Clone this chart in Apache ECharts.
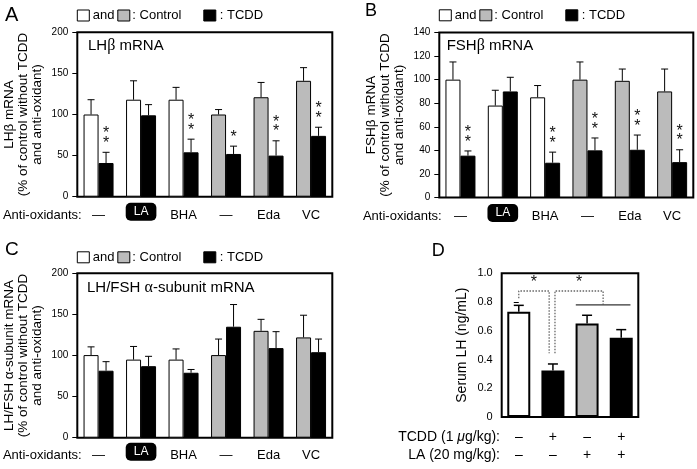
<!DOCTYPE html>
<html><head><meta charset="utf-8">
<script src="https://cdn.jsdelivr.net/npm/echarts@6/dist/echarts.min.js"></script>
<style>html,body{margin:0;padding:0;background:#fff}#c{width:697px;height:469px}</style>
</head><body><div id="c"></div>
<script>
// ---------- data ----------
const categories = ['—', 'LA', 'BHA', '—', 'Eda', 'VC'];
// Panel A: LHbeta mRNA (% of control)
const lhbControl   = [100, 118, 118, 100, 121, 141];
const lhbControlSE = [18, 23, 15, 6, 18, 16];
const lhbTcdd      = [41, 99, 54, 52, 50, 74];
const lhbTcddSE    = [13, 13, 16, 9.5, 18, 10.5];
const lhbStars     = ['**', '', '**', '*', '**', '**'];
// Panel B: FSHbeta mRNA
const fshControl   = [100, 78, 85, 100, 99, 90];
const fshControlSE = [15, 13, 10, 15, 10, 19];
const fshTcdd      = [35.5, 90, 29.5, 40, 40.5, 30];
const fshTcddSE    = [4, 12, 9, 10.5, 12.5, 10.5];
const fshStars     = ['**', '', '**', '**', '**', '**'];
// Panel C: LH/FSH alpha-subunit mRNA
const alphaControl   = [100.5, 95, 95, 100.5, 130, 122];
const alphaControlSE = [10, 16, 13, 19.5, 14, 27];
const alphaTcdd      = [81.5, 87, 79, 135, 109, 104];
const alphaTcddSE    = [11, 12, 4, 27, 20, 16];
const alphaStars     = ['', '', '', '', '', ''];
// Panel D: serum LH (ng/mL)
const serumGroups = ['g1', 'g2', 'g3', 'g4'];
const tcddRow = ['–', '+', '–', '+'];
const laRow   = ['–', '–', '+', '+'];
const serumLH = [0.733, 0.323, 0.65, 0.552];
const serumSE = [0.044, 0.046, 0.058, 0.056];
// significance annotations (data units)
const bracketLeft  = [[0, 0.826], [0, 0.877], [0.89, 0.877], [0.89, 0.443]];
const bracketRight = [[1.06, 0.443], [1.06, 0.877], [2.47, 0.877], [2.47, 0.784]];
const groupLine    = [[1.67, 0.78], [3.27, 0.78]];
const sigStars     = [[0.445, 0.935], [1.765, 0.935]];

// ---------- styles / layout ----------
const FONT = '"Liberation Sans", Arial, Helvetica, sans-serif';
const WHITE = '#ffffff', GRAY = '#bbbbbb', BLACK = '#000000';
const BW = 15;

function makeErr(offset, capW, lw, stars) {
  return function (params, api) {
    const i = api.value(0), m = api.value(1), s = api.value(2);
    const b = api.coord([i, m]);
    const t = api.coord([i, m + s]);
    const x = b[0] + offset;
    const ch = [
      {type: 'line', shape: {x1: x, y1: b[1], x2: x, y2: t[1]}, style: {stroke: '#000', lineWidth: lw}},
      {type: 'line', shape: {x1: x - capW / 2, y1: t[1], x2: x + capW / 2, y2: t[1]}, style: {stroke: '#000', lineWidth: lw}}
    ];
    const st = stars && stars[i];
    if (st) {
      ch.push({type: 'text', x: x, y: t[1] - 4,
        style: {text: st.split('').join('\n'), fill: '#111', font: '16px ' + FONT,
          align: 'center', verticalAlign: 'bottom', textAlign: 'center', textVerticalAlign: 'bottom', lineHeight: 9.5}});
    }
    return {type: 'group', children: ch};
  };
}
function starItem(params, api) {
  const p = api.coord([api.value(0), api.value(1)]);
  return {type: 'text', x: p[0], y: p[1],
    style: {text: '*', fill: '#111', font: '16px ' + FONT,
      align: 'center', verticalAlign: 'middle', textAlign: 'center', textVerticalAlign: 'middle'}};
}

const grids = [
  {left: 77.3, top: 32.3, width: 255, height: 164.4},
  {left: 439.3, top: 32.5, width: 254, height: 165},
  {left: 77.3, top: 273.3, width: 255, height: 164.4},
  {left: 501.7, top: 273.3, width: 136.6, height: 143.7}
].map(g => Object.assign(g, {show: true, borderColor: '#000', borderWidth: 2, backgroundColor: 'transparent'}));

function catAxis(gi, margin) {
  return {
    gridIndex: gi, type: 'category', data: categories,
    axisLine: {show: false}, axisTick: {show: false},
    axisLabel: {
      interval: 0, margin: margin,
      formatter: v => v === 'LA' ? '{box|LA}' : '{t|' + v + '}',
      rich: {
        t: {fontSize: 13, lineHeight: 21, color: '#000', fontFamily: FONT},
        box: {fontSize: 12, lineHeight: 14, color: '#fff', backgroundColor: '#000', borderRadius: 5, padding: [3, 8], fontFamily: FONT}
      }
    }
  };
}
function valAxis(gi, max, interval, name, gap, nameSize, fmt) {
  return {
    gridIndex: gi, type: 'value', min: 0, max: max, interval: interval,
    axisLine: {show: false},
    axisTick: {show: true, length: 5, lineStyle: {color: '#000', width: 1}},
    splitLine: {show: false},
    axisLabel: {fontSize: gi === 3 ? 11 : 10, color: '#000', margin: 9, fontFamily: FONT, formatter: fmt},
    name: name, nameLocation: 'middle', nameGap: gap,
    nameTextStyle: {fontSize: nameSize, lineHeight: 14, color: '#000', fontFamily: FONT}
  };
}

function panelSeries(gi, ctrl, ctrlSE, tcdd, tcddSE, stars) {
  return [
    {type: 'bar', xAxisIndex: gi, yAxisIndex: gi, barWidth: BW, barGap: '0%',
      data: ctrl.map((v, i) => ({value: v, itemStyle: {color: i < 3 ? WHITE : GRAY}})),
      itemStyle: {borderColor: '#000', borderWidth: 1}},
    {type: 'bar', xAxisIndex: gi, yAxisIndex: gi, barWidth: BW, barGap: '0%',
      data: tcdd, itemStyle: {color: BLACK, borderColor: '#000', borderWidth: 1}},
    {type: 'custom', xAxisIndex: gi, yAxisIndex: gi, encode: {x: 0, y: 1}, z: 3,
      data: ctrl.map((v, i) => [i, v, ctrlSE[i]]), renderItem: makeErr(-BW / 2, 7, 1, null)},
    {type: 'custom', xAxisIndex: gi, yAxisIndex: gi, encode: {x: 0, y: 1}, z: 3,
      data: tcdd.map((v, i) => [i, v, tcddSE[i]]), renderItem: makeErr(BW / 2, 7, 1, stars)}
  ];
}

function txt(x, y, text, size, align, extra) {
  return Object.assign({type: 'text', x: x, y: y, silent: true,
    style: Object.assign({text: text, fill: '#000', font: size + 'px ' + FONT,
      align: align || 'left', verticalAlign: 'middle', textAlign: align || 'left', textVerticalAlign: 'middle'}, extra || {})});
}
function rect(x, y, w, h, fill) {
  return {type: 'rect', shape: {x: x, y: y, width: w, height: h}, silent: true,
    style: {fill: fill, stroke: '#000', lineWidth: 1}};
}
function legendAt(L, cy) {
  return [
    rect(L, cy - 5.5, 12, 11, WHITE), txt(L + 15.5, cy, 'and', 13),
    rect(L + 40.5, cy - 5.5, 12, 11, GRAY), txt(L + 55, cy, ': Control', 13),
    rect(L + 126.5, cy - 5.5, 12, 11, BLACK), txt(L + 142.5, cy, ': TCDD', 13)
  ];
}
function title(x, cy, parts) {
  return txt(x, cy, parts, 15, 'left', {rich: {
    n: {fontSize: 15, fontFamily: FONT, fill: '#000'},
    g: {fontSize: 16, fontFamily: '"Liberation Serif", "DejaVu Serif", serif', fill: '#000'}
  }});
}

const graphics = [].concat(
  [txt(5, 15.8, 'A', 20), txt(365, 11.5, 'B', 18), txt(5, 250, 'C', 19), txt(431.7, 250.8, 'D', 18)],
  legendAt(77.3, 15.5), legendAt(439.3, 15.3), legendAt(77.3, 257.3),
  [title(88, 45.7, '{n|LH}{g|β}{n| mRNA}'),
   title(446.7, 46, '{n|FSH}{g|β}{n| mRNA}'),
   title(87, 287.5, '{n|LH/FSH }{g|α}{n|-subunit mRNA}')],
  [txt(81.7, 215, 'Anti-oxidants:', 13, 'right'),
   txt(441.7, 216.7, 'Anti-oxidants:', 13, 'right'),
   txt(81.7, 455, 'Anti-oxidants:', 13, 'right'),
   txt(500, 437, 'TCDD (1 {i|μ}g/kg):', 14, 'right', {rich: {i: {fontStyle: 'italic', fontSize: 14, fontFamily: FONT}}}),
   txt(500, 455, 'LA (20 mg/kg):', 14, 'right')]
);

const serumColors = serumLH.map((v, i) => tcddRow[i] === '+' ? BLACK : (laRow[i] === '+' ? GRAY : WHITE));

const option = {
  animation: false,
  textStyle: {fontFamily: FONT},
  grid: grids,
  xAxis: [
    catAxis(0, 8), catAxis(1, 8.5), catAxis(2, 7),
    {gridIndex: 3, type: 'category', data: serumGroups, axisLine: {show: false}, axisTick: {show: false},
      axisLabel: {interval: 0, margin: 11, fontSize: 14, lineHeight: 18, color: '#000', fontFamily: FONT,
        formatter: (v, i) => tcddRow[i] + '\n' + laRow[i]}},
    {gridIndex: 3, type: 'value', min: -0.5, max: 3.5, show: false}
  ],
  yAxis: [
    valAxis(0, 200, 50, 'LHβ mRNA\n(% of control without TCDD\nand anti-oxidant)', 33, 13.5),
    valAxis(1, 140, 20, 'FSHβ mRNA\n(% of control without TCDD\nand anti-oxidant)', 33, 13.5),
    valAxis(2, 200, 50, 'LH/FSH α-subunit mRNA\n(% of control without TCDD\nand anti-oxidant)', 33, 13.5),
    valAxis(3, 1, 0.2, 'Serum LH (ng/mL)', 33, 14, v => v === 0 ? '0' : v.toFixed(1))
  ],
  series: [].concat(
    panelSeries(0, lhbControl, lhbControlSE, lhbTcdd, lhbTcddSE, lhbStars),
    panelSeries(1, fshControl, fshControlSE, fshTcdd, fshTcddSE, fshStars),
    panelSeries(2, alphaControl, alphaControlSE, alphaTcdd, alphaTcddSE, alphaStars),
    [
      {type: 'bar', xAxisIndex: 3, yAxisIndex: 3, barWidth: 23,
        data: serumLH.map((v, i) => ({value: v, itemStyle: {color: serumColors[i]}})),
        itemStyle: {borderColor: '#000', borderWidth: 2}},
      {type: 'custom', xAxisIndex: 3, yAxisIndex: 3, encode: {x: 0, y: 1}, z: 3,
        data: serumLH.map((v, i) => [i, v, serumSE[i]]), renderItem: makeErr(0, 10, 1.5, null)},
      {type: 'line', xAxisIndex: 4, yAxisIndex: 3, data: bracketLeft, symbol: 'none',
        lineStyle: {type: [1.5, 1.5], color: '#666', width: 1.3}},
      {type: 'line', xAxisIndex: 4, yAxisIndex: 3, data: bracketRight, symbol: 'none',
        lineStyle: {type: [1.5, 1.5], color: '#666', width: 1.3}},
      {type: 'line', xAxisIndex: 4, yAxisIndex: 3, data: groupLine, symbol: 'none',
        lineStyle: {color: '#000', width: 1}},
      {type: 'custom', xAxisIndex: 4, yAxisIndex: 3, encode: {x: 0, y: 1}, z: 4,
        data: sigStars, renderItem: starItem}
    ]
  ),
  graphic: {elements: graphics}
};

const chart = echarts.init(document.getElementById('c'), null, {renderer: 'canvas'});
chart.setOption(option);
</script>
</body></html>
